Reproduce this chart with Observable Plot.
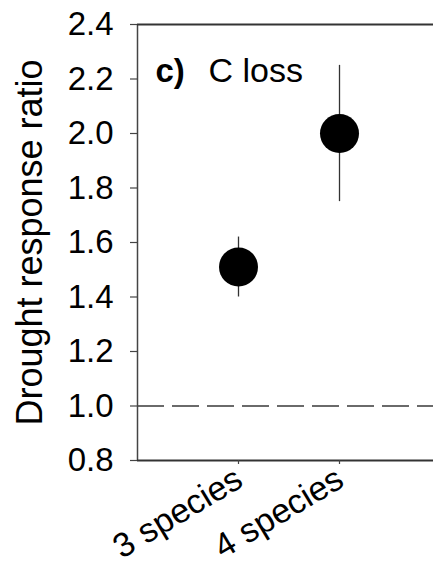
<!DOCTYPE html>
<html>
<head>
<meta charset="utf-8">
<script src="https://cdn.jsdelivr.net/npm/d3@7"></script>
<script src="https://cdn.jsdelivr.net/npm/@observablehq/plot@0.6"></script>
<style>
  html, body { margin: 0; padding: 0; background: #fff; overflow: hidden; }
  #chart { width: 433px; height: 573px; overflow: hidden; }
  #chart svg { display: block; max-width: none !important; }
</style>
</head>
<body>
<div id="chart"></div>
<script>
// ---- data ----
const categories = ["3 species", "4 species"];
const means = [1.51, 2.00];
const errLow = [1.40, 1.75];
const errHigh = [1.62, 2.25];
const yTicks = [0.8, 1.0, 1.2, 1.4, 1.6, 1.8, 2.0, 2.2, 2.4];
const referenceLine = [1.0];
const panelLetter = "c)";
const panelTitle = "C loss";
const yLabel = "Drought response ratio";

const rows = categories.map((c, i) => ({
  cat: c, pos: i + 1, mean: means[i], lo: errLow[i], hi: errHigh[i]
}));
const positions = rows.map(d => d.pos);

const font = "'Liberation Sans', Arial, Helvetica, sans-serif";

const chart = Plot.plot({
  width: 470,
  height: 573,
  marginLeft: 137,
  marginRight: 0,
  marginTop: 24,
  marginBottom: 113,
  style: { fontFamily: font, background: "#fff", color: "#000", maxWidth: "none" },
  x: { domain: [0, 3.297], axis: null },
  y: { domain: [0.8, 2.4], axis: null },
  marks: [
    Plot.ruleY(referenceLine, { stroke: "#3a3a3a", strokeWidth: 1.3, strokeDasharray: "27,8" }),
    Plot.ruleX([0], { y1: 0.8, y2: 2.4, stroke: "#444", strokeWidth: 1.5 }),
    Plot.ruleY([0.8, 2.4], { stroke: "#333", strokeWidth: 1.8 }),
    Plot.axisY({
      ticks: yTicks, tickSize: 7, tickPadding: 17, fontSize: 33,
      tickFormat: d3.format(".1f"), label: null, stroke: "#444", strokeWidth: 1.2
    }),
    Plot.axisX({
      ticks: positions, tickSize: 4, tickFormat: () => "", label: null,
      stroke: "#444", strokeWidth: 1.2
    }),
    Plot.text(rows, {
      x: "pos", text: "cat", frameAnchor: "bottom", rotate: -31,
      textAnchor: "end", lineAnchor: "top", dx: -6, dy: 4, fontSize: 34, fill: "#000"
    }),
    Plot.ruleX(rows, { x: "pos", y1: "lo", y2: "hi", stroke: "#333", strokeWidth: 1.3 }),
    Plot.dot(rows, { x: "pos", y: "mean", r: 19.5, fill: "#000", stroke: "none" }),
    Plot.text([yLabel], {
      frameAnchor: "left", rotate: -90, textAnchor: "middle", lineAnchor: "bottom",
      dx: -96, fontSize: 36, fill: "#000"
    }),
    Plot.text([panelLetter], {
      frameAnchor: "top-left", textAnchor: "start", lineAnchor: "bottom",
      dx: 18, dy: 57, fontSize: 33, fontWeight: "bold", fill: "#000"
    }),
    Plot.text([panelTitle], {
      frameAnchor: "top-left", textAnchor: "start", lineAnchor: "bottom",
      dx: 71, dy: 57, fontSize: 34, fill: "#000"
    })
  ]
});

document.getElementById("chart").appendChild(chart);
</script>
</body>
</html>
